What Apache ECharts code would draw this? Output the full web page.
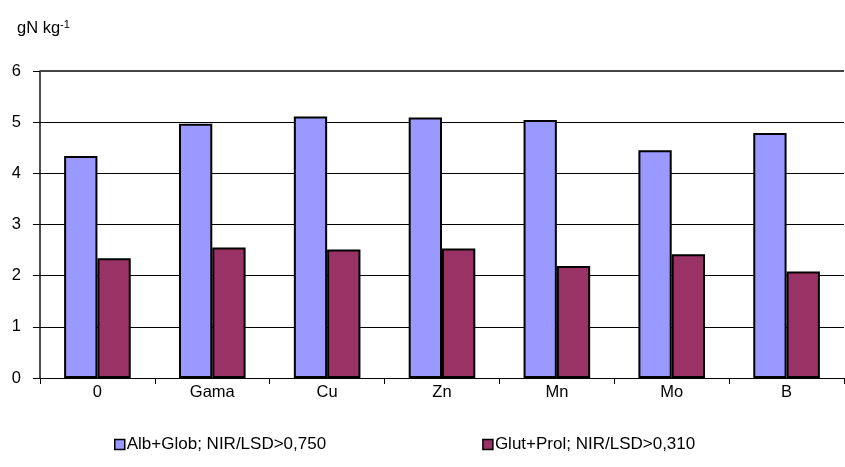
<!DOCTYPE html>
<html>
<head>
<meta charset="utf-8">
<script src="https://cdn.jsdelivr.net/npm/echarts@6/dist/echarts.min.js"></script>
<style>
  html, body { margin: 0; padding: 0; background: #fff; }
  #chart { width: 845px; height: 467px; }
</style>
</head>
<body>
<div id="chart"></div>
<script>
// Treatments on the category axis
const categories = ['0', 'Gama', 'Cu', 'Zn', 'Mn', 'Mo', 'B'];
// Protein fractions, gN per kg
const albGlob = [4.34, 4.97, 5.11, 5.09, 5.04, 4.45, 4.79];
const glutProl = [2.34, 2.55, 2.51, 2.53, 2.19, 2.42, 2.08];
const seriesNames = ['Alb+Glob; NIR/LSD>0,750', 'Glut+Prol; NIR/LSD>0,310'];
const yTicks = [0, 1, 2, 3, 4, 5, 6];

const FONT = '"Liberation Sans", Arial, sans-serif';
const FS = 16.5;

const chart = echarts.init(document.getElementById('chart'), null, { renderer: 'canvas' });

chart.setOption({
  animation: false,
  backgroundColor: '#fff',
  textStyle: { fontFamily: FONT, color: '#000' },
  title: {
    text: '{a|gN kg}{b|-1}',
    left: 12,
    top: 14,
    textStyle: {
      fontWeight: 'normal',
      rich: {
        a: { fontFamily: FONT, fontSize: FS, fontWeight: 'normal', color: '#000' },
        b: { fontFamily: FONT, fontSize: 11, fontWeight: 'normal', color: '#000', padding: [0, 0, 8, 0] }
      }
    }
  },
  legend: {
    left: 109,
    top: 431,
    itemWidth: 10,
    itemHeight: 10,
    itemGap: 156,
    icon: 'rect',
    textStyle: { fontFamily: FONT, fontSize: 17, color: '#000', padding: [0, 0, 0, -3] },
    itemStyle: { borderColor: '#000', borderWidth: 1.5 },
    data: seriesNames
  },
  grid: { left: 40, right: 1, top: 71, bottom: 89, containLabel: false },
  xAxis: {
    type: 'category',
    data: categories,
    axisLine: { lineStyle: { color: '#000', width: 1 } },
    axisTick: { show: true, length: 6, lineStyle: { color: '#000' } },
    axisLabel: { fontFamily: FONT, fontSize: FS, color: '#000', margin: 6 }
  },
  yAxis: {
    type: 'value',
    min: yTicks[0],
    max: yTicks[yTicks.length - 1],
    interval: 1,
    axisLine: { show: true, lineStyle: { color: '#111', width: 1.5 } },
    axisTick: { show: true, length: 7, lineStyle: { color: '#000' } },
    axisLabel: { fontFamily: FONT, fontSize: FS, color: '#000', margin: 19 },
    splitLine: { show: true, lineStyle: { color: '#000', width: 1 } }
  },
  series: [
    {
      name: seriesNames[0],
      type: 'bar',
      data: albGlob,
      barGap: '0%',
      barCategoryGap: '42%',
      itemStyle: { color: '#9999FF', borderColor: '#000', borderWidth: 2 },
      // plot-area top edge
      markLine: {
        silent: true,
        symbol: 'none',
        label: { show: false },
        lineStyle: { color: '#444', width: 2, type: 'solid' },
        data: [{ yAxis: yTicks[yTicks.length - 1] }]
      }
    },
    {
      name: seriesNames[1],
      type: 'bar',
      data: glutProl,
      itemStyle: { color: '#993366', borderColor: '#000', borderWidth: 2 }
    }
  ]
});
</script>
</body>
</html>
